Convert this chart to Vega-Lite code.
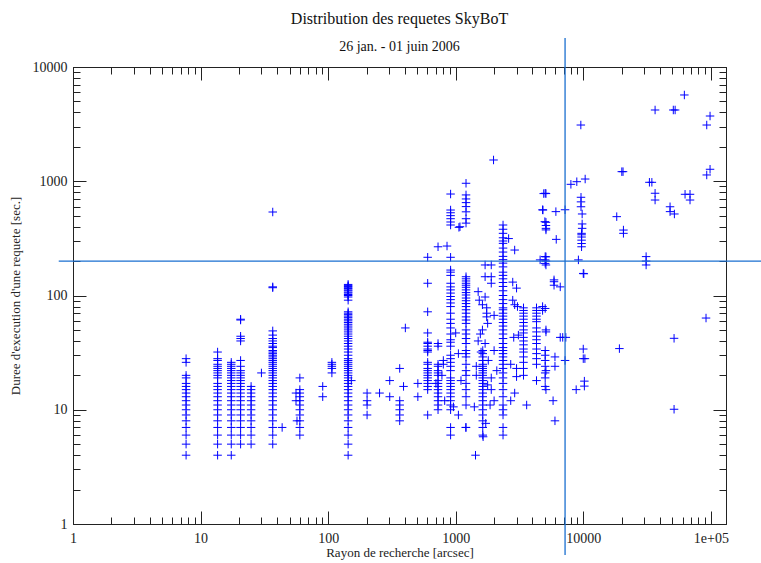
{
"$schema": "https://vega.github.io/schema/vega-lite/v6.json",
"width": 653, "height": 457,
"autosize": "none",
"padding": {"left": 73, "top": 67, "right": 35, "bottom": 39},
"background": "white",
"config": {"view": {"stroke": "#222", "strokeWidth": 1}, "font": "Liberation Serif"},
"title": {"text": "Distribution des requetes SkyBoT", "subtitle": "26 jan. - 01 juin 2006", "font": "Liberation Serif", "fontSize": 16, "fontWeight": "normal", "color": "#111", "subtitleFont": "Liberation Serif", "subtitleFontSize": 14, "subtitleColor": "#111", "offset": -17, "subtitlePadding": 13, "anchor": "middle", "frame": "group"},
"layer": [
{"data": {"values": [
{"r":7.7,"d":28},{"r":7.7,"d":26},{"r":7.7,"d":20},{"r":7.7,"d":19},{"r":7.7,"d":17},{"r":7.7,"d":16},{"r":7.7,"d":15},{"r":7.7,"d":14},{"r":7.7,"d":13},{"r":7.7,"d":12},{"r":7.7,"d":11},{"r":7.7,"d":10},{"r":7.7,"d":9},{"r":7.7,"d":8},{"r":7.7,"d":7},{"r":7.7,"d":6},{"r":7.7,"d":5},{"r":7.7,"d":4},
{"r":13.6,"d":32},{"r":13.6,"d":28},{"r":13.6,"d":27},{"r":13.6,"d":25},{"r":13.6,"d":24},{"r":13.6,"d":23},{"r":13.6,"d":22},{"r":13.6,"d":21},{"r":13.6,"d":20},{"r":13.6,"d":19},{"r":13.6,"d":17},{"r":13.6,"d":16},{"r":13.6,"d":15},{"r":13.6,"d":14},{"r":13.6,"d":13},{"r":13.6,"d":12},{"r":13.6,"d":11},{"r":13.6,"d":10},{"r":13.6,"d":9},{"r":13.6,"d":8},{"r":13.6,"d":7},{"r":13.6,"d":6},{"r":13.6,"d":5},{"r":13.6,"d":4},
{"r":17.4,"d":26},{"r":17.4,"d":25},{"r":17.4,"d":24},{"r":17.4,"d":23},{"r":17.4,"d":22},{"r":17.4,"d":21},{"r":17.4,"d":20},{"r":17.4,"d":19},{"r":17.4,"d":18},{"r":17.4,"d":17},{"r":17.4,"d":16},{"r":17.4,"d":15},{"r":17.4,"d":14},{"r":17.4,"d":13},{"r":17.4,"d":12},{"r":17.4,"d":11},{"r":17.4,"d":10},{"r":17.4,"d":9},{"r":17.4,"d":8},{"r":17.4,"d":7},{"r":17.4,"d":6},{"r":17.4,"d":5},{"r":17.4,"d":4},
{"r":20.6,"d":62},{"r":20.6,"d":61},{"r":20.6,"d":44},{"r":20.6,"d":42},{"r":20.6,"d":40},{"r":20.6,"d":27},{"r":20.6,"d":24},{"r":20.6,"d":22},{"r":20.6,"d":21},{"r":20.6,"d":20},{"r":20.6,"d":19},{"r":20.6,"d":18},{"r":20.6,"d":17},{"r":20.6,"d":16},{"r":20.6,"d":15},{"r":20.6,"d":14},{"r":20.6,"d":13},{"r":20.6,"d":12},{"r":20.6,"d":11},{"r":20.6,"d":10},{"r":20.6,"d":9},{"r":20.6,"d":8},{"r":20.6,"d":7},{"r":20.6,"d":6},{"r":20.6,"d":5},
{"r":24.9,"d":16},{"r":24.9,"d":15},{"r":24.9,"d":14},{"r":24.9,"d":13},{"r":24.9,"d":12},{"r":24.9,"d":11},{"r":24.9,"d":10},{"r":24.9,"d":9},{"r":24.9,"d":8},{"r":24.9,"d":7},{"r":24.9,"d":6},{"r":24.9,"d":5},
{"r":30,"d":21},
{"r":36.8,"d":538},{"r":36.8,"d":119},{"r":36.8,"d":117},{"r":36.8,"d":49},{"r":36.8,"d":45},{"r":36.8,"d":42},{"r":36.8,"d":40},{"r":36.8,"d":38},{"r":36.8,"d":36},{"r":36.8,"d":35},{"r":36.8,"d":33},{"r":36.8,"d":32},{"r":36.8,"d":31},{"r":36.8,"d":30},{"r":36.8,"d":29},{"r":36.8,"d":28},{"r":36.8,"d":27},{"r":36.8,"d":26},{"r":36.8,"d":25},{"r":36.8,"d":24},{"r":36.8,"d":23},{"r":36.8,"d":22},{"r":36.8,"d":21},{"r":36.8,"d":20},{"r":36.8,"d":19},{"r":36.8,"d":18},{"r":36.8,"d":17},{"r":36.8,"d":16},{"r":36.8,"d":15},{"r":36.8,"d":14},{"r":36.8,"d":13},{"r":36.8,"d":12},{"r":36.8,"d":11},{"r":36.8,"d":10},{"r":36.8,"d":9},{"r":36.8,"d":8},{"r":36.8,"d":7},{"r":36.8,"d":6},{"r":36.8,"d":5},
{"r":43.6,"d":7},
{"r":60,"d":19},{"r":60,"d":15},{"r":60,"d":14},{"r":60,"d":13},{"r":60,"d":12},{"r":60,"d":11},{"r":60,"d":10},{"r":60,"d":9},{"r":60,"d":8},{"r":60,"d":7},{"r":60,"d":6},{"r":56,"d":14},{"r":56,"d":12},{"r":57,"d":8},
{"r":90.7,"d":16},{"r":90.7,"d":13},
{"r":107,"d":26},{"r":107,"d":25},{"r":107,"d":24},{"r":107,"d":23},{"r":107,"d":21},
{"r":143.5,"d":125},{"r":143.5,"d":122},{"r":143.5,"d":120},{"r":143.5,"d":117},{"r":143.5,"d":115},{"r":143.5,"d":112},{"r":143.5,"d":110},{"r":143.5,"d":107},{"r":143.5,"d":105},{"r":143.5,"d":102},{"r":143.5,"d":100},{"r":143.5,"d":97},{"r":143.5,"d":91},{"r":143.5,"d":72},{"r":143.5,"d":70},{"r":143.5,"d":68},{"r":143.5,"d":66},{"r":143.5,"d":64},{"r":143.5,"d":62},{"r":143.5,"d":60},{"r":143.5,"d":58},{"r":143.5,"d":56},{"r":143.5,"d":54},{"r":143.5,"d":52},{"r":143.5,"d":50},{"r":143.5,"d":48},{"r":143.5,"d":46},{"r":143.5,"d":44},{"r":143.5,"d":42},{"r":143.5,"d":40},{"r":143.5,"d":38},{"r":143.5,"d":36},{"r":143.5,"d":34},{"r":143.5,"d":32},{"r":143.5,"d":30},{"r":143.5,"d":28},{"r":143.5,"d":27},{"r":143.5,"d":26},{"r":143.5,"d":25},{"r":143.5,"d":24},{"r":143.5,"d":23},{"r":143.5,"d":22},{"r":143.5,"d":21},{"r":143.5,"d":20},{"r":143.5,"d":19},{"r":143.5,"d":18},{"r":143.5,"d":17},{"r":143.5,"d":16},{"r":143.5,"d":15},{"r":143.5,"d":14},{"r":143.5,"d":13},{"r":143.5,"d":12},{"r":143.5,"d":11},{"r":143.5,"d":10},{"r":143.5,"d":9},{"r":143.5,"d":8},{"r":143.5,"d":7},{"r":143.5,"d":6},{"r":143.5,"d":5},{"r":143.5,"d":4},{"r":152,"d":18},
{"r":202,"d":14},{"r":202,"d":12},{"r":202,"d":11},{"r":202,"d":9},
{"r":253,"d":14},{"r":304,"d":18},{"r":304,"d":13},
{"r":364,"d":23},{"r":364,"d":12},{"r":364,"d":11},{"r":364,"d":10},{"r":364,"d":9},{"r":364,"d":8},
{"r":390,"d":16},{"r":403,"d":52},{"r":505,"d":17},{"r":505,"d":13},
{"r":603,"d":216},{"r":603,"d":128},{"r":603,"d":72},{"r":603,"d":47},{"r":603,"d":39},{"r":603,"d":38},{"r":603,"d":36},{"r":603,"d":34},{"r":603,"d":33},{"r":603,"d":32},{"r":603,"d":26},{"r":603,"d":25},{"r":603,"d":23},{"r":603,"d":22},{"r":603,"d":21},{"r":603,"d":20},{"r":603,"d":19},{"r":603,"d":18},{"r":603,"d":17},{"r":603,"d":16},{"r":603,"d":15},{"r":603,"d":9},
{"r":727,"d":267},{"r":727,"d":38},{"r":727,"d":36},{"r":727,"d":25},{"r":727,"d":24},{"r":727,"d":22},{"r":727,"d":21},{"r":727,"d":20},{"r":727,"d":18},{"r":727,"d":17},{"r":727,"d":16},{"r":727,"d":15},{"r":727,"d":14},{"r":727,"d":13},{"r":727,"d":12},{"r":727,"d":11},{"r":727,"d":10},
{"r":855,"d":271},
{"r":912,"d":773},{"r":912,"d":560},{"r":912,"d":530},{"r":912,"d":500},{"r":912,"d":470},{"r":912,"d":440},{"r":912,"d":414},{"r":912,"d":216},{"r":912,"d":167},{"r":912,"d":160},{"r":912,"d":150},{"r":912,"d":128},{"r":912,"d":119},{"r":912,"d":112},{"r":912,"d":105},{"r":912,"d":98},{"r":912,"d":92},{"r":912,"d":86},{"r":912,"d":80},{"r":912,"d":70},{"r":912,"d":62},{"r":912,"d":57},{"r":912,"d":52},{"r":912,"d":46},{"r":912,"d":41},{"r":912,"d":39},{"r":912,"d":36},{"r":912,"d":30},{"r":912,"d":28},{"r":912,"d":26},{"r":912,"d":24},{"r":912,"d":22},{"r":912,"d":19},{"r":912,"d":18},{"r":912,"d":17},{"r":912,"d":16},{"r":912,"d":15},{"r":912,"d":14},{"r":912,"d":13},{"r":912,"d":12},{"r":912,"d":11},{"r":912,"d":10},{"r":912,"d":7},{"r":912,"d":6},
{"r":1000,"d":47},{"r":1050,"d":31},{"r":800,"d":27},{"r":1100,"d":18},{"r":1050,"d":9},{"r":1200,"d":7},{"r":960,"d":10.6},{"r":800,"d":25},{"r":780,"d":20},{"r":700,"d":17},{"r":820,"d":12},
{"r":1060,"d":395},{"r":1080,"d":400},
{"r":1205,"d":960},{"r":1205,"d":759},{"r":1205,"d":700},{"r":1205,"d":650},{"r":1205,"d":600},{"r":1205,"d":540},{"r":1205,"d":470},{"r":1205,"d":430},{"r":1205,"d":146},{"r":1205,"d":140},{"r":1205,"d":134},{"r":1205,"d":128},{"r":1205,"d":123},{"r":1205,"d":118},{"r":1205,"d":112},{"r":1205,"d":106},{"r":1205,"d":101},{"r":1205,"d":95},{"r":1205,"d":90},{"r":1205,"d":85},{"r":1205,"d":80},{"r":1205,"d":75},{"r":1205,"d":70},{"r":1205,"d":65},{"r":1205,"d":61},{"r":1205,"d":57},{"r":1205,"d":50},{"r":1205,"d":46},{"r":1205,"d":42},{"r":1205,"d":38},{"r":1205,"d":33},{"r":1205,"d":31},{"r":1205,"d":29},{"r":1205,"d":25},{"r":1205,"d":22},{"r":1205,"d":20},{"r":1205,"d":17},{"r":1205,"d":15},{"r":1205,"d":13},{"r":1205,"d":11},{"r":1205,"d":7},
{"r":1430,"d":4},
{"r":1630,"d":33},{"r":1630,"d":31},{"r":1630,"d":29},{"r":1630,"d":27},{"r":1630,"d":25},{"r":1630,"d":24},{"r":1630,"d":23},{"r":1630,"d":22},{"r":1630,"d":21},{"r":1630,"d":20},{"r":1630,"d":19},{"r":1630,"d":18},{"r":1630,"d":17},{"r":1630,"d":16},{"r":1630,"d":15},{"r":1630,"d":14},{"r":1630,"d":13},{"r":1630,"d":12},{"r":1630,"d":11},{"r":1630,"d":10},{"r":1630,"d":9},{"r":1630,"d":8},{"r":1630,"d":7},{"r":1630,"d":6},
{"r":1500,"d":108},{"r":1700,"d":97},{"r":1530,"d":91},{"r":1900,"d":128},{"r":1620,"d":83},{"r":1750,"d":78},{"r":1750,"d":70},{"r":1750,"d":65},{"r":2000,"d":67},{"r":1780,"d":57},{"r":1620,"d":50},{"r":1560,"d":46},{"r":1700,"d":38},{"r":1580,"d":32},{"r":2000,"d":33},{"r":2100,"d":22},{"r":1900,"d":15},{"r":1780,"d":16.5},{"r":1860,"d":11},{"r":1720,"d":7.6},{"r":1640,"d":5.8},{"r":1400,"d":10.6},{"r":1700,"d":185},{"r":1900,"d":185},{"r":1700,"d":146},{"r":1900,"d":146},{"r":1980,"d":1535},{"r":1500,"d":40},{"r":1800,"d":27},{"r":1450,"d":24},{"r":1450,"d":20},{"r":1900,"d":19},{"r":2000,"d":12},
{"r":2350,"d":414},{"r":2350,"d":380},{"r":2350,"d":350},{"r":2350,"d":320},{"r":2350,"d":300},{"r":2350,"d":286},{"r":2350,"d":260},{"r":2350,"d":240},{"r":2350,"d":220},{"r":2350,"d":206},{"r":2350,"d":192},{"r":2350,"d":178},{"r":2350,"d":160},{"r":2350,"d":150},{"r":2350,"d":140},{"r":2350,"d":130},{"r":2350,"d":120},{"r":2350,"d":110},{"r":2350,"d":100},{"r":2350,"d":92},{"r":2350,"d":85},{"r":2350,"d":78},{"r":2350,"d":75},{"r":2350,"d":70},{"r":2350,"d":66},{"r":2350,"d":62},{"r":2350,"d":58},{"r":2350,"d":54},{"r":2350,"d":50},{"r":2350,"d":46},{"r":2350,"d":42},{"r":2350,"d":38},{"r":2350,"d":35},{"r":2350,"d":33},{"r":2350,"d":31},{"r":2350,"d":29},{"r":2350,"d":27},{"r":2350,"d":25},{"r":2350,"d":23},{"r":2350,"d":21},{"r":2350,"d":19},{"r":2350,"d":17},{"r":2350,"d":15},{"r":2350,"d":13},{"r":2350,"d":11},{"r":2350,"d":10},{"r":2350,"d":9},{"r":2350,"d":7},{"r":2350,"d":6},
{"r":2600,"d":315},{"r":2900,"d":250},{"r":2800,"d":131},{"r":3000,"d":116},{"r":2800,"d":91},{"r":2900,"d":83},{"r":3050,"d":80},{"r":3100,"d":45},{"r":2850,"d":43},{"r":2700,"d":25},{"r":3000,"d":23},{"r":3000,"d":19.5},{"r":2900,"d":14},{"r":2700,"d":12},{"r":3600,"d":11},
{"r":3400,"d":78},{"r":3400,"d":74},{"r":3400,"d":70},{"r":3400,"d":66},{"r":3400,"d":62},{"r":3400,"d":58},{"r":3400,"d":54},{"r":3400,"d":50},{"r":3400,"d":47},{"r":3400,"d":43},{"r":3400,"d":40},{"r":3400,"d":37},{"r":3400,"d":34},{"r":3400,"d":32},{"r":3400,"d":29},{"r":3400,"d":26},{"r":3400,"d":23},{"r":3400,"d":20},
{"r":4300,"d":78},{"r":4300,"d":74},{"r":4300,"d":70},{"r":4300,"d":66},{"r":4300,"d":62},{"r":4300,"d":59},{"r":4300,"d":52},{"r":4300,"d":48},{"r":4300,"d":44},{"r":4300,"d":41},{"r":4300,"d":38},{"r":4300,"d":34},{"r":4300,"d":31},{"r":4300,"d":28},{"r":4300,"d":25},{"r":4300,"d":18},
{"r":4800,"d":80},{"r":4800,"d":74},{"r":4900,"d":780},{"r":5100,"d":780},{"r":4800,"d":563},{"r":5000,"d":443},{"r":5100,"d":375},{"r":5030,"d":785},{"r":5100,"d":437},{"r":5100,"d":410},{"r":5100,"d":387},{"r":4830,"d":560},{"r":6100,"d":542},{"r":6140,"d":310},{"r":7200,"d":563},{"r":5030,"d":219},{"r":5030,"d":205},{"r":5030,"d":191},{"r":4590,"d":205},{"r":5100,"d":218},{"r":5100,"d":200},{"r":5100,"d":185},{"r":5900,"d":132},{"r":5900,"d":123},{"r":6600,"d":119},{"r":5900,"d":137},{"r":5030,"d":77},{"r":5100,"d":48},{"r":5100,"d":50},{"r":6600,"d":43},{"r":7200,"d":27},{"r":6000,"d":29},{"r":6000,"d":24},{"r":5030,"d":33},{"r":5030,"d":30},{"r":5030,"d":27},{"r":5030,"d":24},{"r":5030,"d":21},{"r":5030,"d":19},{"r":5030,"d":16},{"r":5800,"d":12},{"r":6000,"d":8},{"r":5100,"d":22},{"r":5100,"d":15},{"r":8800,"d":15},{"r":6900,"d":43},{"r":7300,"d":43},
{"r":9570,"d":3106},{"r":8000,"d":940},{"r":8900,"d":991},{"r":10350,"d":1046},{"r":9600,"d":724},{"r":9600,"d":660},{"r":9600,"d":598},{"r":9800,"d":517},{"r":9800,"d":423},{"r":9800,"d":387},{"r":9700,"d":350},{"r":9700,"d":340},{"r":9700,"d":325},{"r":9700,"d":305},{"r":9700,"d":285},{"r":9700,"d":267},{"r":9160,"d":205},{"r":10000,"d":156},{"r":10100,"d":155},{"r":10000,"d":34},{"r":10000,"d":28},{"r":10300,"d":28},{"r":10200,"d":17.8},{"r":10200,"d":16.1},
{"r":20050,"d":1213},{"r":20500,"d":1213},{"r":18300,"d":490},{"r":20650,"d":374},{"r":20650,"d":350},{"r":33000,"d":979},{"r":34500,"d":979},{"r":36560,"d":785},{"r":36560,"d":685},{"r":36560,"d":4205},{"r":50800,"d":4205},{"r":52500,"d":4205},{"r":62000,"d":5690},{"r":98600,"d":3724},{"r":92900,"d":3106},{"r":31100,"d":219},{"r":31100,"d":200},{"r":31100,"d":185},{"r":47900,"d":598},{"r":47900,"d":542},{"r":51800,"d":517},{"r":62800,"d":769},{"r":68700,"d":769},{"r":68700,"d":685},{"r":92900,"d":1135},{"r":98600,"d":1273},{"r":91700,"d":63.5},{"r":51500,"d":42.2},{"r":51500,"d":10.1},{"r":19200,"d":34.3}
]},
"mark": {"type": "point", "shape": "M-1,0H1M0,-1V1", "filled": false, "stroke": "#0000ff", "strokeWidth": 1, "size": 72, "opacity": 1},
"encoding": {
"x": {"field": "r", "type": "quantitative", "scale": {"type": "log", "domain": [1, 131500], "nice": false},
 "axis": {"orient": "bottom", "grid": false, "values": [1,2,3,4,5,6,7,8,9,10,20,30,40,50,60,70,80,90,100,200,300,400,500,600,700,800,900,1000,2000,3000,4000,5000,6000,7000,8000,9000,10000,20000,30000,40000,50000,60000,70000,80000,90000,100000],
  "labelExpr": "datum.value == 100000 ? '1e+05' : (indexof([1,10,100,1000,10000], datum.value) >= 0 ? format(datum.value, 'd') : '')",
  "tickSize": {"condition": {"test": "indexof([1,10,100,1000,10000,100000], datum.value) >= 0", "value": -13}, "value": -7},
  "labelPadding": 20, "labelFont": "Liberation Serif", "labelFontSize": 14, "labelColor": "#222", "labelOverlap": false, "labelFlush": false,
  "tickColor": "#222", "domainColor": "#222", "title": "Rayon de recherche [arcsec]", "titleFont": "Liberation Serif", "titleFontSize": 13, "titleFontWeight": "normal", "titleColor": "#222", "titlePadding": -5}},
"y": {"field": "d", "type": "quantitative", "scale": {"type": "log", "domain": [1, 10000], "nice": false},
 "axis": {"orient": "left", "grid": false, "values": [1,2,3,4,5,6,7,8,9,10,20,30,40,50,60,70,80,90,100,200,300,400,500,600,700,800,900,1000,2000,3000,4000,5000,6000,7000,8000,9000,10000],
  "labelExpr": "indexof([1,10,100,1000,10000], datum.value) >= 0 ? format(datum.value, 'd') : ''",
  "tickSize": {"condition": {"test": "indexof([1,10,100,1000,10000], datum.value) >= 0", "value": -13}, "value": -7},
  "labelPadding": 19, "labelFont": "Liberation Serif", "labelFontSize": 14, "labelColor": "#222", "labelOverlap": false, "labelFlush": false,
  "tickColor": "#222", "domainColor": "#222", "title": "Duree d'execution d'une requete [sec.]", "titleFont": "Liberation Serif", "titleFontSize": 13, "titleFontWeight": "normal", "titleColor": "#222", "titlePadding": 10}}
}},
{"data": {"values": [{"r": 0.773, "d": 200, "r2": 300000, "d2": 200}, {"r": 7200, "d": 0.535, "r2": 7200, "d2": 17950}]},
"mark": {"type": "rule", "color": "#1a6fd0", "strokeWidth": 1.3, "clip": false},
"encoding": {
"x": {"field": "r", "type": "quantitative", "scale": {"type": "log", "domain": [1, 131500], "nice": false},
 "axis": {"orient": "top", "grid": false, "labels": false, "title": null, "values": [1,2,3,4,5,6,7,8,9,10,20,30,40,50,60,70,80,90,100,200,300,400,500,600,700,800,900,1000,2000,3000,4000,5000,6000,7000,8000,9000,10000,20000,30000,40000,50000,60000,70000,80000,90000,100000],
  "tickSize": {"condition": {"test": "indexof([1,10,100,1000,10000,100000], datum.value) >= 0", "value": -13}, "value": -7},
  "tickColor": "#222", "domainColor": "#222"}},
"x2": {"field": "r2"},
"y": {"field": "d", "type": "quantitative", "scale": {"type": "log", "domain": [1, 10000], "nice": false},
 "axis": {"orient": "right", "grid": false, "labels": false, "title": null, "values": [1,2,3,4,5,6,7,8,9,10,20,30,40,50,60,70,80,90,100,200,300,400,500,600,700,800,900,1000,2000,3000,4000,5000,6000,7000,8000,9000,10000],
  "tickSize": {"condition": {"test": "indexof([1,10,100,1000,10000], datum.value) >= 0", "value": -13}, "value": -7},
  "tickColor": "#222", "domainColor": "#222"}},
"y2": {"field": "d2"}
}}
],
"resolve": {"axis": {"x": "independent", "y": "independent"}}
}
